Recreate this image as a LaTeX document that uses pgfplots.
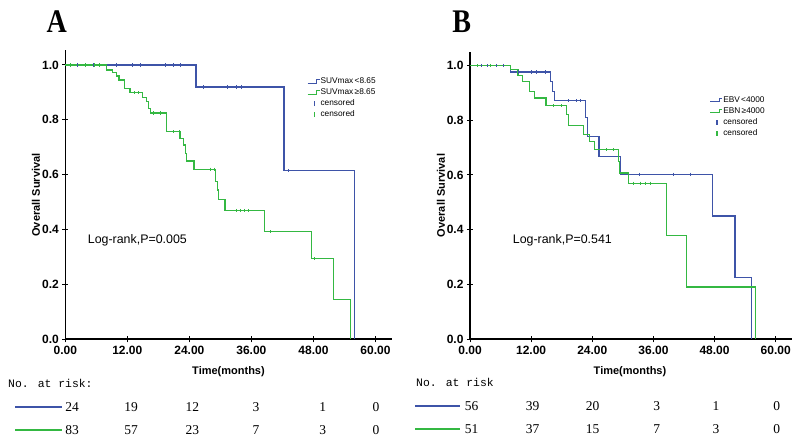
\documentclass[border=0pt]{standalone}
\usepackage{pgfplots}
\pgfplotsset{compat=1.18}
\usepackage{fontspec}
\setmainfont{Liberation Sans}
\newfontfamily\serifA{Liberation Serif}
\newfontfamily\monoA{Liberation Mono}
\definecolor{cblue}{RGB}{62,84,168}
\definecolor{cgreen}{RGB}{52,184,66}
\pgfplotsset{kmaxis/.style={
  scale only axis, axis x line=bottom, axis y line=left,
  axis line style={-, line width=1.6pt, black},
  xmin=0, ymin=0,
  xtick={0,12,24,36,48,60}, xticklabels={0.00,12.00,24.00,36.00,48.00,60.00},
  ytick={0,0.2,0.4,0.6,0.8,1}, yticklabels={0.0,0.2,0.4,0.6,0.8,1.0},
  tick align=center, major tick length=6pt, tick style={black, line width=1pt},
  ticklabel style={font=\fontsize{12}{14}\selectfont\bfseries},
  clip=false,
  legend style={draw=none, fill=none, anchor=north west,
    font=\fontsize{8.3}{9}\selectfont,
    nodes={inner sep=0.5pt, text height=6pt, text depth=2pt}, row sep=2pt},
  legend cell align=left,
},
blueline/.style={const plot, cblue, line width=1.2pt,
  legend image code/.code={\draw[cblue,line width=1.1pt] (0pt,-1.8pt) -- (9pt,-1.8pt) -- (9pt,1.8pt) -- (12pt,1.8pt);}},
greenline/.style={const plot, cgreen, line width=1.2pt,
  legend image code/.code={\draw[cgreen,line width=1.1pt] (0pt,-1.8pt) -- (9pt,-1.8pt) -- (9pt,1.8pt) -- (12pt,1.8pt);}},
bluecens/.style={only marks, mark=|, mark size=1.6pt, cblue, mark options={line width=0.6pt},
  legend image code/.code={\draw[cblue,line width=1.6pt] (7pt,-2.5pt)--(7pt,2.5pt); \coordinate (lA) at (0pt,0pt); \coordinate (lB) at (12pt,0pt);}},
greencens/.style={only marks, mark=|, mark size=1.6pt, cgreen, mark options={line width=0.6pt},
  legend image code/.code={\draw[cgreen,line width=1.6pt] (7pt,-2.5pt)--(7pt,2.5pt); \coordinate (lA) at (0pt,0pt); \coordinate (lB) at (12pt,0pt);}},
}
\begin{document}
\begin{tikzpicture}
\useasboundingbox (0pt,0pt) rectangle (800pt,443pt);
% ---------------- Panel A ----------------
\begin{axis}[kmaxis, at={(65.3pt,103.7pt)}, anchor=south west,
  width=326.7pt, height=289.3pt, xmax=63.2, ymax=1.0547,
  legend style={at={(0.73,0.914)}}]
\addplot[blueline]
  coordinates {(0,1) (25.3,0.92) (42.3,0.614) (55.9,0)};
\addlegendentry{SUVmax\,<8.65}
\addplot[greenline]
  coordinates {(0,1) (7.9,0.982) (9.2,0.972) (9.9,0.960) (10.4,0.945) (11.5,0.915)
  (12.5,0.899) (15.0,0.882) (15.7,0.866) (16.1,0.842) (16.5,0.825) (19.5,0.757)
  (22.2,0.733) (22.8,0.708) (23.3,0.678) (23.5,0.650) (24.9,0.620) (29.1,0.575)
  (29.4,0.544) (29.6,0.510) (30.9,0.470) (38.6,0.392) (47.6,0.294) (51.9,0.146) (55.2,0)};
\addlegendentry{SUVmax\,≥8.65}
\addplot[bluecens]
  coordinates {(2.3,1) (5.4,1) (9.8,1) (13.0,1) (14.6,1) (19.3,1) (20.9,1) (22.3,1)
  (26.7,0.92) (31.4,0.92) (33.1,0.92) (34.0,0.92) (43.2,0.614)};
\addlegendentry{censored}
\addplot[greencens]
  coordinates {(1.0,1) (3.8,1) (5.6,1) (6.6,1) (13.3,0.899) (14.1,0.899) (17.1,0.825)
  (18.3,0.825) (20.9,0.757) (22.0,0.757) (28.1,0.620) (28.8,0.620) (33.0,0.470)
  (33.8,0.470) (34.6,0.470) (35.4,0.470) (39.7,0.392) (48.2,0.294)};
\addlegendentry{censored}
\end{axis}
% ---------------- Panel B ----------------
\begin{axis}[kmaxis, at={(470pt,103.7pt)}, anchor=south west,
  width=321.7pt, height=287.6pt, xmax=63.14, ymax=1.050,
  legend style={at={(0.735,0.855)}}]
\addplot[blueline]
  coordinates {(0,1) (8.0,0.976) (15.8,0.94) (16.2,0.905) (16.6,0.871) (22.7,0.810)
  (23.1,0.741) (25.3,0.668) (29.6,0.603) (47.6,0.45) (52.0,0.226) (55.2,0)};
\addlegendentry{EBV\,<4000}
\addplot[greenline]
  coordinates {(0,1) (8.0,0.984) (9.4,0.963) (10.3,0.941) (11.6,0.905) (12.6,0.881)
  (14.9,0.853) (19.0,0.82) (19.4,0.780) (22.2,0.749) (23.5,0.722) (24.5,0.692)
  (29.2,0.649) (29.4,0.607) (31.1,0.570) (38.6,0.378) (42.5,0.191) (56.0,0)};
\addlegendentry{EBN\,≥4000}
\addplot[bluecens]
  coordinates {(2.3,1) (3.3,1) (5.2,1) (6.5,1) (9.5,0.976) (12.1,0.976) (13.1,0.976)
  (14.7,0.976) (19.3,0.871) (20.9,0.871) (21.6,0.871) (33.2,0.603) (39.9,0.603) (43.3,0.603)};
\addlegendentry{censored}
\addplot[greencens]
  coordinates {(1.5,1) (4.0,1) (16.4,0.853) (18.0,0.853) (26.8,0.692) (28.1,0.692)
  (32.1,0.570) (33.5,0.570) (34.4,0.570) (35.3,0.570)};
\addlegendentry{censored}
\end{axis}
% ---------------- texts ----------------
\node[xscale=0.85, font=\serifA\bfseries\fontsize{33}{33}\selectfont] at (56.7pt,421pt) {A};
\node[xscale=0.85, font=\serifA\bfseries\fontsize{33}{33}\selectfont] at (461.7pt,421pt) {B};
\node[rotate=90, font=\fontsize{11}{12}\selectfont\bfseries] at (36pt,248pt) {Overall Survival};
\node[rotate=90, font=\fontsize{11}{12}\selectfont\bfseries] at (441pt,247.5pt) {Overall Survival};
\node[anchor=west, inner sep=0pt, font=\fontsize{12.4}{14}\selectfont] at (87.7pt,202.3pt) {Log-rank,P=0.005};
\node[anchor=west, inner sep=0pt, font=\fontsize{12.4}{14}\selectfont] at (512.7pt,202.3pt) {Log-rank,P=0.541};
\node[font=\fontsize{11}{12}\selectfont\bfseries] at (228.5pt,71.3pt) {Time(months)};
\node[font=\fontsize{11}{12}\selectfont\bfseries] at (630pt,71.3pt) {Time(months)};
% risk table A
\node[anchor=west, inner sep=0pt, font=\monoA\fontsize{11.4}{13}\selectfont] at (8pt,59.7pt) {No. at risk:};
\draw[cblue, line width=1.8pt] (15pt,36.3pt) -- (61.7pt,36.3pt);
\draw[cgreen, line width=1.8pt] (15pt,13pt) -- (61.7pt,13pt);
\foreach \xx/\a/\b in {72/24/83, 131/19/57, 192.3/12/23, 256/3/7, 322.7/1/3, 376/0/0}{
  \node[font=\serifA\fontsize{13.5}{14}\selectfont] at (\xx pt,36.3pt) {\a};
  \node[font=\serifA\fontsize{13.5}{14}\selectfont] at (\xx pt,13pt) {\b};
}
% risk table B
\node[anchor=west, inner sep=0pt, font=\monoA\fontsize{11.4}{13}\selectfont] at (416pt,60.3pt) {No. at risk};
\draw[cblue, line width=1.8pt] (415pt,37pt) -- (460pt,37pt);
\draw[cgreen, line width=1.8pt] (415pt,14pt) -- (460pt,14pt);
\foreach \xx/\a/\b in {471.7/56/51, 532.7/39/37, 592.7/20/15, 656.7/3/7, 716/1/3, 776.7/0/0}{
  \node[font=\serifA\fontsize{13.5}{14}\selectfont] at (\xx pt,37pt) {\a};
  \node[font=\serifA\fontsize{13.5}{14}\selectfont] at (\xx pt,14pt) {\b};
}
\end{tikzpicture}
\end{document}
